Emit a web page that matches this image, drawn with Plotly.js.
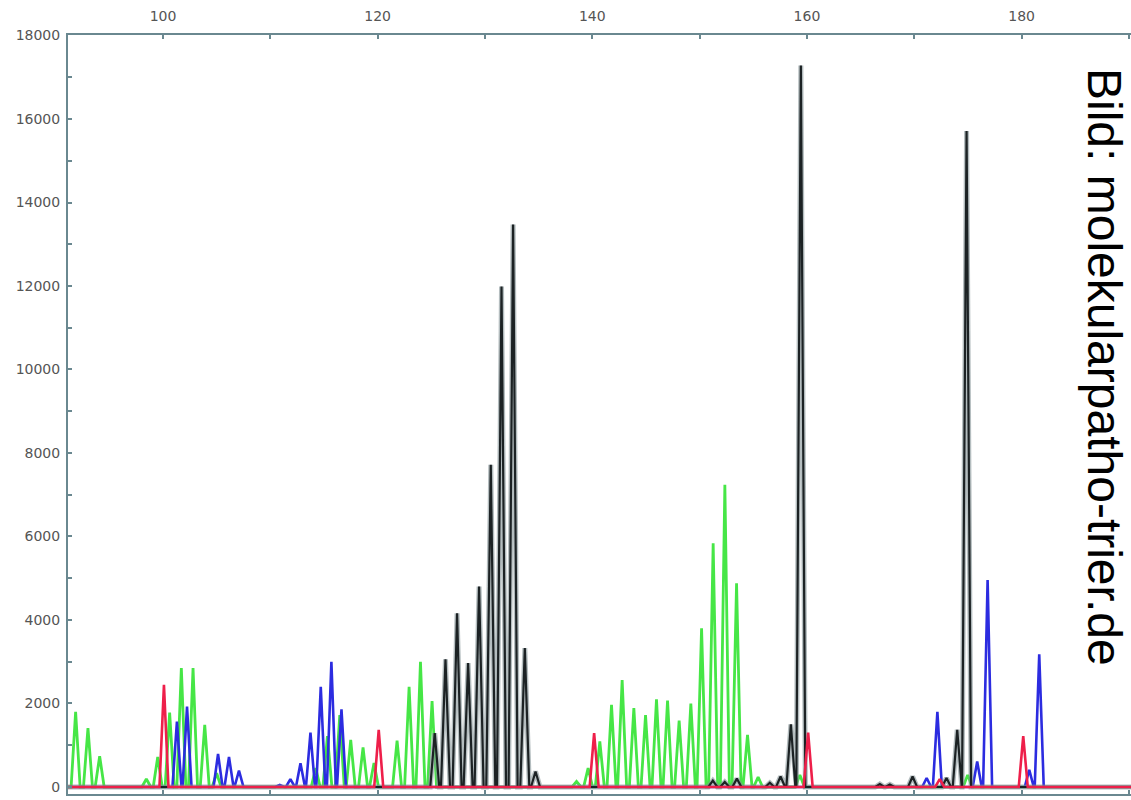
<!DOCTYPE html>
<html>
<head>
<meta charset="utf-8">
<script src="https://cdn.plot.ly/plotly-3.0.1.min.js"></script>
<style>html,body{margin:0;padding:0;background:#fff;}#chart{width:1131px;height:800px;}</style>
</head>
<body>
<div id="chart"></div>
<script>
// Fragment size (bp) and peak height (RFU) per dye
const greenSize   = [91.86, 93.01, 94.10, 98.45, 99.51, 100.62, 101.71, 102.80, 103.89, 105.00,
                     114.23, 115.32, 116.47, 117.49, 118.64, 119.66, 121.81, 122.93, 123.99, 125.07,
                     138.53, 139.61, 140.70, 141.79, 142.78, 143.87, 144.96, 145.98, 147.01, 148.09,
                     149.18, 150.18, 151.26, 152.35, 153.44, 154.46, 155.45, 159.34, 174.97];
const greenHeight = [1800, 1410, 740, 190, 720, 1780, 2850, 2850, 1490, 330,
                     450, 1220, 1720, 1130, 950, 575, 1110, 2400, 3000, 2060,
                     130, 450, 1090, 1965, 2560, 1890, 1725, 2100, 2070, 1590,
                     2000, 3800, 5840, 7240, 4880, 1250, 240, 290, 290];

const blueSize    = [101.30, 102.24, 105.13, 106.15, 107.08, 110.88, 111.87, 112.81, 113.74, 114.70,
                     115.69, 116.63, 171.15, 172.15, 175.86, 176.83, 180.71, 181.64];
const blueHeight  = [1565, 1925, 790, 720, 390, 50, 190, 570, 1300, 2400,
                     3000, 1860, 215, 1800, 610, 4960, 410, 3180];

const blackSize   = [125.32, 126.32, 127.40, 128.43, 129.45, 130.54, 131.54, 132.62, 133.71, 134.71,
                     151.23, 152.34, 153.47, 156.54, 157.54, 158.50, 159.43, 166.79, 167.72, 169.84,
                     173.00, 174.00, 174.87];
const blackHeight = [1290, 3060, 4160, 2970, 4800, 7720, 11985, 13470, 3330, 370,
                     150, 120, 200, 100, 250, 1500, 17280, 70, 60, 250,
                     215, 1370, 15710];

const redSize     = [100.09, 120.10, 140.17, 160.11, 172.37, 180.15];
const redHeight   = [2445, 1370, 1290, 1300, 190, 1220];

const xTickVals = [100, 120, 140, 160, 180];
const yTickVals = [0, 2000, 4000, 6000, 8000, 10000, 12000, 14000, 16000, 18000];

const X_RANGE = [91.15, 190.19];
const Y_RANGE = [-168, 18012];
const HALF_W = 0.42;

function peakTrace(sizes, heights, color, width, name) {
  const idx = sizes.map((s, i) => i).sort((a, b) => sizes[a] - sizes[b]);
  const xs = [X_RANGE[0]], ys = [0];
  idx.forEach((i, k) => {
    const s = sizes[i];
    const prev = k > 0 ? sizes[idx[k - 1]] : -Infinity;
    const next = k < idx.length - 1 ? sizes[idx[k + 1]] : Infinity;
    const wl = Math.min(HALF_W, (s - prev) / 2);
    const wr = Math.min(HALF_W, (next - s) / 2);
    xs.push(s - wl, s, s + wr);
    ys.push(0, heights[i], 0);
  });
  xs.push(X_RANGE[1]); ys.push(0);
  return {x: xs, y: ys, type: 'scatter', mode: 'lines', name: name,
          line: {color: color, width: width}, hoverinfo: 'skip'};
}

const data = [
  peakTrace(greenSize, greenHeight, '#46e646', 2.8, 'green'),
  peakTrace(blueSize, blueHeight, '#2c2ce0', 2.6, 'blue'),
  peakTrace(blackSize, blackHeight, 'rgba(130,145,148,0.6)', 5, 'black halo'),
  peakTrace(blackSize, blackHeight, '#1c2224', 2.2, 'black'),
  peakTrace(redSize, redHeight, '#ee1f4a', 2.6, 'red')
];

const axisColor = '#6a8890';
const tickFont = {family: 'DejaVu Sans, sans-serif', size: 14, color: '#555'};

const layout = {
  width: 1131, height: 800,
  margin: {l: 68, r: 0, t: 35, b: 6, pad: 0},
  paper_bgcolor: '#fff', plot_bgcolor: '#fff',
  showlegend: false,
  xaxis: {
    range: X_RANGE, side: 'top', showgrid: false, zeroline: false,
    showline: true, linecolor: axisColor, linewidth: 2, mirror: 'ticks',
    tickmode: 'array', tickvals: xTickVals, ticktext: xTickVals.map(String),
    ticks: 'inside', ticklen: 4, tickwidth: 2, tickcolor: axisColor,
    minor: {dtick: 10, tick0: 0, ticks: 'inside', ticklen: 4, tickwidth: 2, tickcolor: axisColor},
    tickfont: tickFont, ticklabelstandoff: 6
  },
  yaxis: {
    range: Y_RANGE, showgrid: false, zeroline: false,
    showline: true, linecolor: axisColor, linewidth: 2,
    tickmode: 'array', tickvals: yTickVals, ticktext: yTickVals.map(String),
    ticks: 'inside', ticklen: 4, tickwidth: 2, tickcolor: axisColor,
    minor: {dtick: 1000, tick0: 0, ticks: 'inside', ticklen: 4, tickwidth: 2, tickcolor: axisColor},
    tickfont: tickFont, ticklabelstandoff: 3
  },
  annotations: [{
    text: 'Bild: molekularpatho-trier.de',
    xref: 'paper', yref: 'paper', x: 0.9746, y: 0.5626,
    xanchor: 'center', yanchor: 'middle', textangle: 90, showarrow: false,
    font: {family: 'Liberation Sans, Arial, sans-serif', size: 48, color: '#000'}
  }]
};

Plotly.newPlot('chart', data, layout, {displayModeBar: false, staticPlot: true});
</script>
</body>
</html>
